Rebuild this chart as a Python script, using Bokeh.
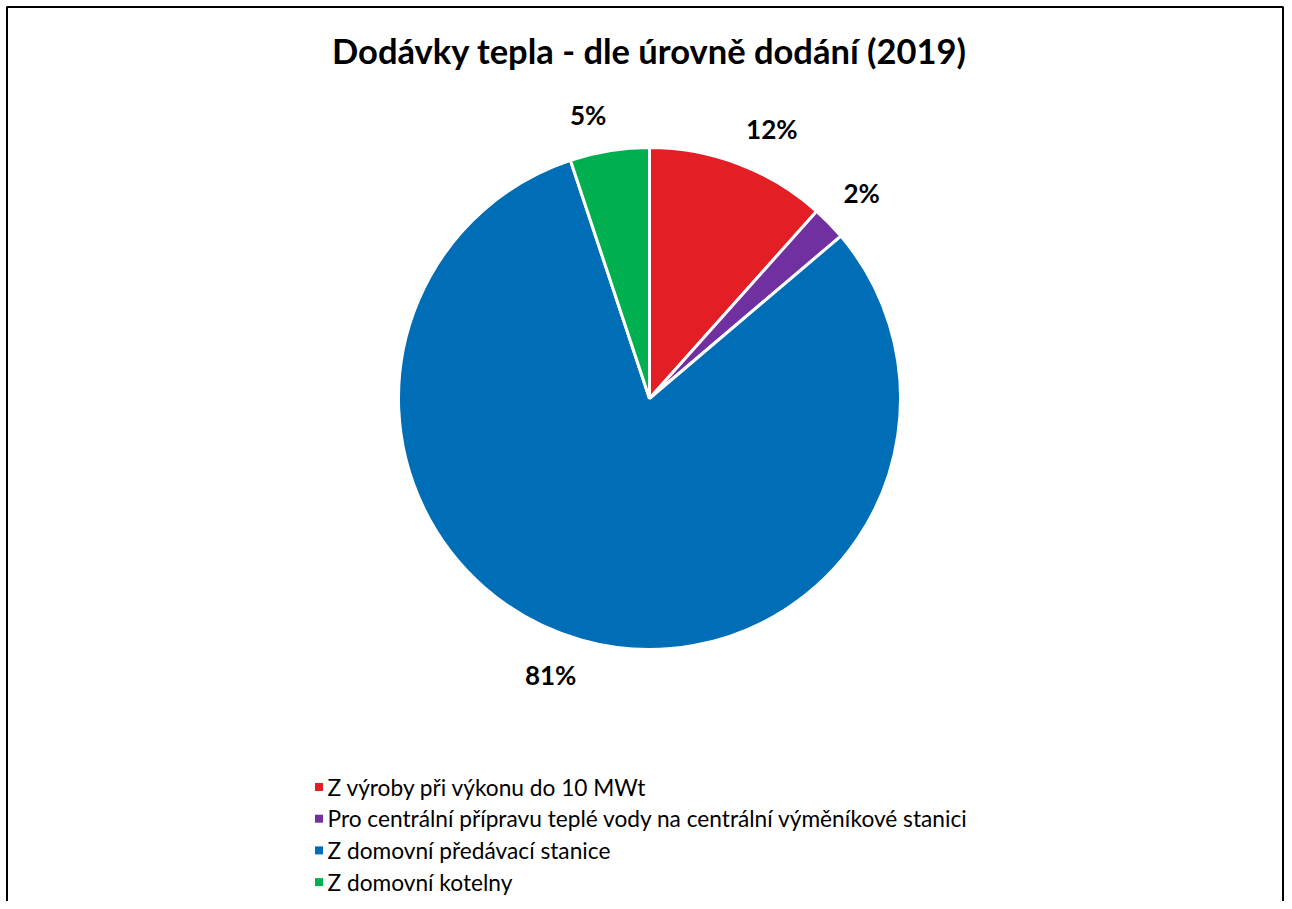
import math
from bokeh.plotting import figure
from bokeh.models import Range1d, ColumnDataSource, BoxAnnotation
from bokeh.core.properties import value
from bokeh.embed import file_html
from bokeh.resources import INLINE

title_text = "Dodávky tepla - dle úrovně dodání (2019)"
categories = [
    "Z výroby při výkonu do 10 MWt",
    "Pro centrální přípravu teplé vody na centrální výměníkové stanici",
    "Z domovní předávací stanice",
    "Z domovní kotelny",
]
shares = [11.6, 2.2, 81.1, 5.1]
colors = ["#E31E24", "#7030A0", "#006EB6", "#00B050"]

W, H = 1284, 901
FONT = "Lato"

p = figure(width=W, height=H, output_backend="svg", toolbar_location=None,
           x_range=Range1d(0, W), y_range=Range1d(0, H),
           min_border=0)
p.axis.visible = False
p.grid.visible = False
p.outline_line_color = None
p.background_fill_color = "white"
p.border_fill_color = "white"

def Y(sy):
    return H - sy

# chart area border (bottom edge lies below the visible page)
p.add_layout(BoxAnnotation(left=6.5, right=W - 1.5, top=Y(6.5), bottom=-40,
                           fill_alpha=0, fill_color=None,
                           line_color="black", line_width=2, line_alpha=1))

cx, cy, R = 649, Y(398), 251
total = sum(shares)
starts, ends, mids = [], [], []
cum = 0.0
for v in shares:
    a0 = math.pi / 2 - 2 * math.pi * cum / total
    cum += v
    a1 = math.pi / 2 - 2 * math.pi * cum / total
    starts.append(a0)
    ends.append(a1)
    mids.append((a0 + a1) / 2)

src = ColumnDataSource(dict(start=starts, end=ends, color=colors))
p.wedge(x=cx, y=cy, radius=R, start_angle="start", end_angle="end",
        direction="clock", fill_color="color", line_color="white",
        line_width=3, source=src)

# data labels (outside end)
for v, m in zip(shares, mids):
    ux, uy = math.cos(m), math.sin(m)
    d = R + 20
    px, py = cx + d * ux, cy + d * uy
    align = "left" if ux >= 0 else "right"
    base = "bottom" if uy >= 0 else "top"
    p.text(x=[px], y=[py], text=[f"{v:.0f}%"], text_align=align,
           text_baseline=base, text_font=value(FONT),
           text_font_style="bold", text_font_size="26px", text_color="black")

# title
p.text(x=[cx], y=[Y(50)], text=[title_text], text_align="center",
       text_baseline="middle", text_font=value(FONT),
       text_font_style="bold", text_font_size="34.5px", text_color="black")

# legend
leg_y = [Y(786.5 + 31.7 * i) for i in range(len(categories))]
p.scatter(x=[318.5] * len(categories), y=leg_y, marker="square", size=8,
          fill_color=colors, line_color=None)
p.text(x=[327] * len(categories), y=leg_y, text=categories,
       text_align="left", text_baseline="middle", text_font=value(FONT),
       text_font_size="22.7px", text_color="black")

open("out.html", "w").write(file_html(p, INLINE))
